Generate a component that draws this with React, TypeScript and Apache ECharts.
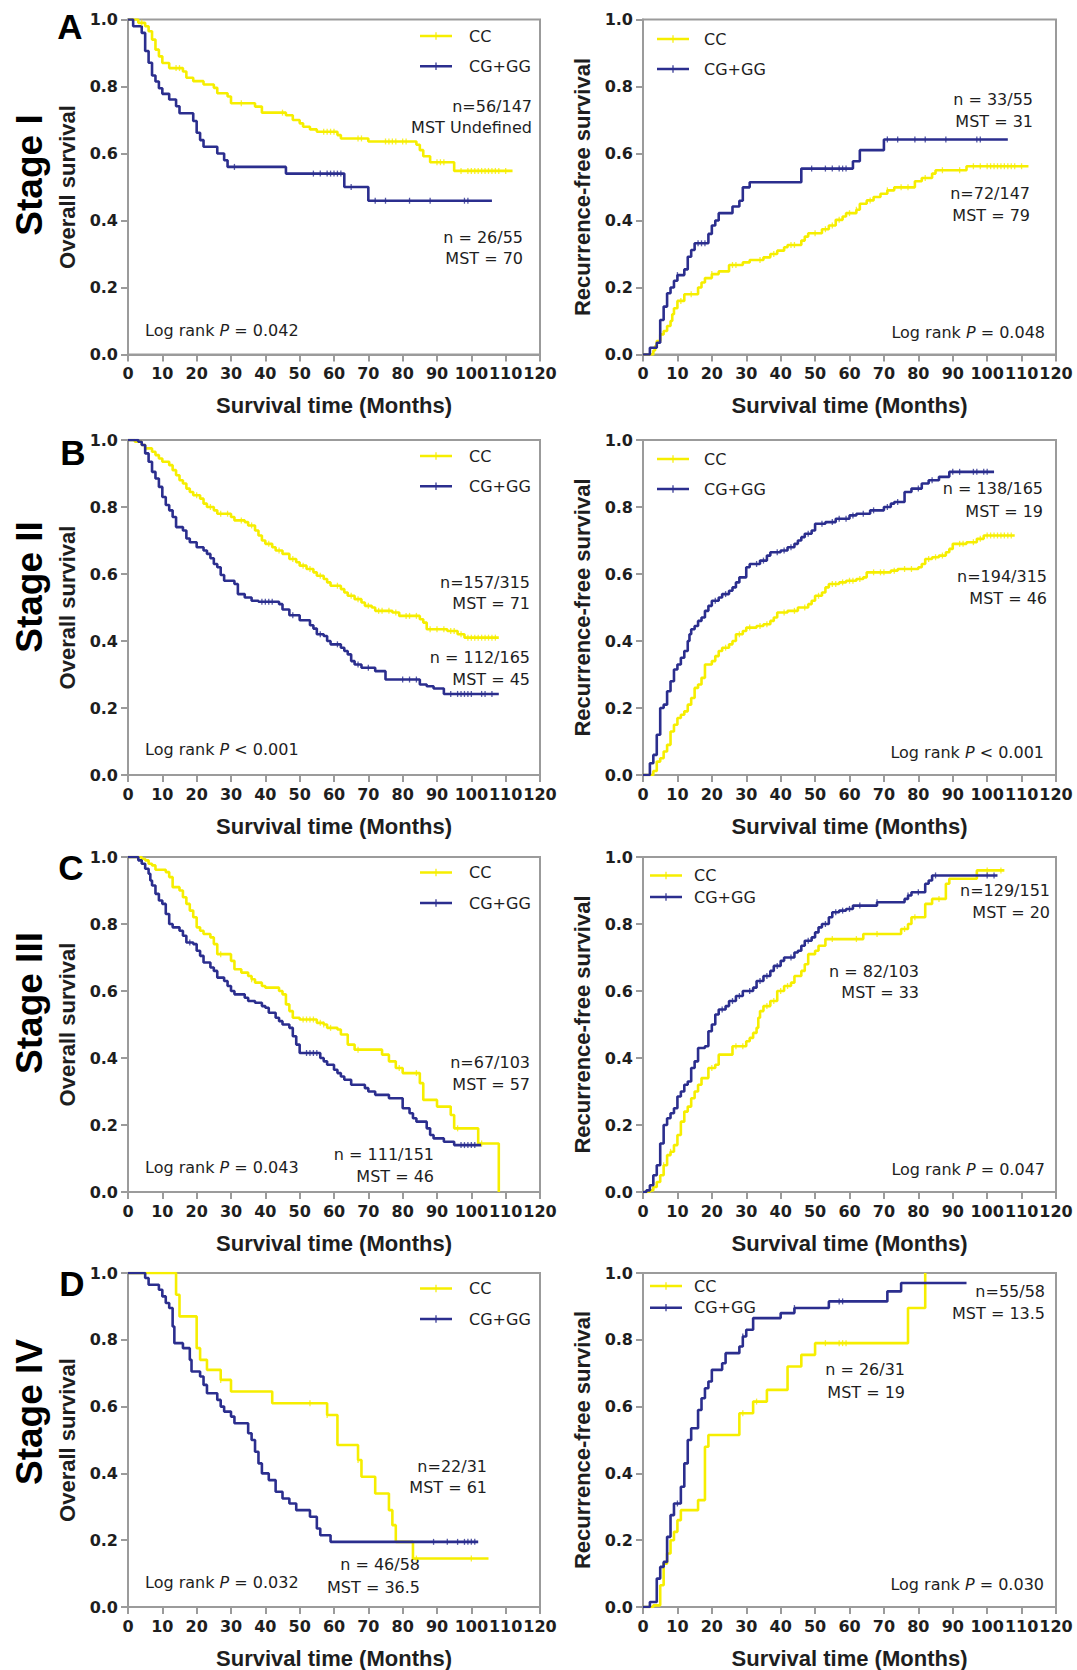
import React, { useEffect, useRef } from "react";
import * as echarts from "echarts";

// ---------- DATA ----------
const groups = ["CC", "CG+GG"];
const xTickValues = [0, 10, 20, 30, 40, 50, 60, 70, 80, 90, 100, 110, 120];
const yTickValues = [0, 0.2, 0.4, 0.6, 0.8, 1.0];

// Stage I overall survival
const osI_CC = [[0,1],[3,0.99],[5,0.98],[6,0.965],[7,0.94],[8,0.91],[9,0.89],[10,0.87],[12,0.855],[16,0.845],[17,0.826],[19,0.816],[22,0.806],[25,0.796],[26,0.78],[29,0.77],[30,0.75],[37,0.74],[39,0.722],[46,0.714],[48,0.70],[50,0.69],[51,0.68],[53,0.672],[55,0.665],[61,0.655],[62,0.645],[70,0.636],[84,0.626],[85,0.61],[86,0.592],[88,0.574],[95,0.548],[112,0.548]];
const osI_CC_cens = [4,14,15,33,45,57,58,59,60,67,68,75,76,77,78,80,81,90,91,92,97,99,100,101,102,103,104,105,106,107,108,110];
const osI_GG = [[0,1],[1.5,0.98],[4,0.96],[5,0.906],[6,0.871],[7,0.833],[8,0.815],[9,0.795],[10,0.778],[12,0.761],[14,0.741],[15,0.72],[19,0.697],[20,0.662],[21,0.64],[22,0.62],[26,0.60],[28,0.58],[29,0.56],[46,0.54],[63,0.50],[70,0.459],[106,0.459]];
const osI_GG_cens = [31,54,56,58,59,60,61,62,65,72,75,82,88,98,99];

// Stage I recurrence-free survival
const rfsI_CC = [[0,0],[3,0.012],[3.5,0.025],[4,0.04],[5,0.06],[6,0.07],[7,0.085],[8,0.10],[8.5,0.12],[9,0.138],[10,0.16],[12,0.18],[16,0.2],[17,0.215],[18,0.228],[20,0.24],[22,0.248],[25,0.267],[29,0.275],[31,0.282],[35,0.29],[37,0.30],[39,0.31],[41,0.32],[42,0.327],[46,0.34],[47,0.352],[48,0.362],[52,0.374],[54,0.385],[56,0.402],[58,0.412],[59,0.422],[62,0.432],[63,0.45],[65,0.46],[67,0.47],[69,0.48],[71,0.49],[73,0.499],[79,0.517],[81,0.527],[84,0.54],[85,0.55],[94,0.562],[112,0.562]];
const rfsI_CC_cens = [11,14,20,26,27,34,38,43,44,50,53,55,57,60,62,66,71,75,77,82,87,92,96,98,100,101,102,103,104,105,106,107,108,110];
const rfsI_GG = [[0,0],[2,0.02],[4,0.035],[5,0.103],[6,0.143],[7,0.183],[8,0.20],[9,0.22],[10,0.237],[12,0.254],[13,0.292],[14,0.312],[15,0.332],[19,0.36],[20,0.385],[21,0.40],[22,0.422],[26,0.442],[28,0.459],[29,0.499],[31,0.514],[46,0.555],[61,0.577],[63,0.61],[70,0.642],[106,0.642]];
const rfsI_GG_cens = [10,16,17,18,49,53,55,57,58,59,71,74,79,82,88,97,98];

// Stage II overall survival
const osII_CC = [[0,1],[2,0.995],[4,0.985],[5,0.975],[7,0.965],[8,0.955],[9,0.945],[10,0.935],[12,0.925],[13,0.91],[14,0.895],[15,0.88],[16,0.87],[17,0.855],[18,0.845],[19,0.835],[21,0.825],[22,0.81],[23,0.80],[25,0.79],[26,0.78],[30,0.77],[31,0.76],[34,0.755],[35,0.745],[37,0.73],[38,0.715],[39,0.70],[40,0.69],[42,0.68],[43,0.67],[45,0.66],[47,0.645],[49,0.635],[50,0.625],[52,0.615],[54,0.605],[55,0.595],[57,0.585],[58,0.575],[59,0.565],[62,0.555],[63,0.545],[64,0.535],[66,0.525],[68,0.515],[69,0.505],[71,0.50],[72,0.49],[77,0.485],[79,0.475],[85,0.465],[86,0.455],[87,0.435],[93,0.43],[96,0.42],[98,0.41],[108,0.41]];
const osII_CC_cens = [20,24,27,29,33,36,41,44,48,51,53,56,61,65,67,70,73,74,76,78,81,82,84,88,90,92,94,95,97,99,100,101,102,103,104,105,106,107];
const osII_GG = [[0,1],[3,0.995],[4,0.985],[5,0.96],[6,0.935],[7,0.905],[8,0.885],[9,0.86],[10,0.83],[11,0.806],[12,0.79],[13,0.77],[14,0.74],[16,0.73],[17,0.706],[18,0.695],[20,0.68],[22,0.67],[23,0.66],[24,0.647],[25,0.63],[26,0.62],[27,0.597],[28,0.58],[31,0.57],[32,0.54],[34,0.53],[36,0.52],[38,0.517],[44,0.51],[45,0.494],[47,0.477],[50,0.462],[53,0.447],[54,0.437],[55,0.42],[57,0.415],[58,0.40],[59,0.39],[62,0.38],[63,0.37],[64,0.36],[65,0.34],[66,0.33],[68,0.32],[72,0.31],[75,0.285],[85,0.27],[87,0.265],[89,0.258],[92,0.242],[108,0.242]];
const osII_GG_cens = [39,40,41,42,48,56,61,67,70,80,82,84,94,96,97,98,99,100,103,104,106];

// Stage II recurrence-free survival
const rfsII_CC = [[0,0],[3,0.012],[4,0.04],[5,0.05],[6,0.07],[7,0.09],[8,0.13],[9,0.15],[10,0.17],[11,0.18],[12,0.19],[13,0.21],[14,0.23],[15,0.26],[16,0.27],[17,0.29],[18,0.33],[20,0.34],[21,0.355],[22,0.37],[23,0.38],[25,0.39],[26,0.40],[27,0.42],[29,0.43],[30,0.44],[33,0.445],[35,0.45],[37,0.46],[38,0.47],[39,0.485],[42,0.49],[45,0.50],[48,0.51],[49,0.52],[50,0.535],[52,0.545],[53,0.56],[54,0.57],[57,0.575],[59,0.58],[62,0.585],[64,0.59],[65,0.605],[72,0.61],[74,0.615],[80,0.62],[81,0.63],[82,0.645],[84,0.65],[86,0.655],[88,0.665],[89,0.675],[90,0.69],[94,0.695],[97,0.705],[99,0.715],[108,0.715]];
const rfsII_CC_cens = [24,28,31,34,36,41,44,47,51,55,56,58,60,61,63,67,69,70,73,76,78,83,85,87,92,93,96,98,100,101,102,103,104,105,106,107];
const rfsII_GG = [[0,0],[2,0.035],[3,0.06],[4,0.12],[5,0.2],[6,0.21],[7,0.25],[8,0.28],[9,0.315],[10,0.33],[11,0.35],[12,0.37],[13,0.40],[13.5,0.42],[14,0.435],[15,0.445],[16,0.46],[17,0.47],[18,0.49],[19,0.505],[20,0.52],[22,0.53],[23,0.54],[25,0.55],[26,0.56],[27,0.575],[28,0.59],[30,0.62],[31,0.63],[34,0.64],[36,0.655],[37,0.665],[40,0.67],[42,0.68],[44,0.69],[45,0.70],[46,0.71],[47,0.72],[49,0.73],[50,0.75],[53,0.755],[56,0.765],[60,0.775],[62,0.78],[66,0.79],[70,0.80],[72,0.81],[73,0.815],[76,0.845],[78,0.855],[81,0.87],[83,0.88],[86,0.89],[89,0.905],[102,0.905]];
const rfsII_GG_cens = [21,24,33,35,39,41,43,48,52,55,57,59,61,64,67,71,74,80,84,90,92,96,97,99,100];

// Stage III overall survival
const osIII_CC = [[0,1],[4,0.995],[5,0.99],[6,0.98],[7,0.975],[8,0.962],[11,0.955],[12,0.94],[13,0.91],[15,0.90],[16,0.88],[17,0.86],[18,0.84],[19,0.82],[20,0.79],[21,0.78],[22,0.77],[24,0.76],[25,0.74],[26,0.71],[30,0.69],[31,0.665],[33,0.655],[35,0.645],[36,0.635],[37,0.625],[39,0.615],[40,0.61],[44,0.60],[45,0.59],[46,0.56],[47,0.54],[48,0.52],[50,0.515],[55,0.505],[57,0.50],[58,0.49],[61,0.485],[62,0.47],[64,0.44],[66,0.425],[74,0.41],[76,0.39],[78,0.37],[80,0.355],[85,0.325],[86,0.275],[90,0.255],[94,0.23],[95,0.19],[102,0.145],[108,0]];
const osIII_CC_cens = [27,36,51,52,53,54,56,57,59,67,79,84,96,103];
const osIII_GG = [[0,1],[3,0.99],[4,0.98],[5,0.965],[6,0.95],[6.5,0.93],[7,0.915],[8,0.89],[9,0.87],[10,0.86],[11,0.83],[12,0.80],[13,0.79],[15,0.78],[16,0.765],[17,0.745],[19,0.74],[20,0.72],[21,0.705],[22,0.685],[24,0.67],[25,0.66],[26,0.64],[28,0.63],[29,0.615],[30,0.60],[31,0.59],[34,0.58],[35,0.57],[37,0.565],[39,0.555],[40,0.55],[41,0.535],[43,0.52],[44,0.51],[45,0.50],[47,0.49],[48,0.465],[49,0.44],[50,0.415],[56,0.40],[57,0.39],[58,0.38],[60,0.365],[61,0.355],[62,0.345],[63,0.335],[65,0.32],[69,0.31],[70,0.30],[72,0.29],[76,0.28],[80,0.25],[82,0.235],[83,0.22],[84,0.21],[87,0.19],[88,0.17],[89,0.16],[92,0.15],[95,0.14],[103,0.14]];
const osIII_GG_cens = [18,52,53,54,55,97,98,99,100,101];

// Stage III recurrence-free survival
const rfsIII_CC = [[0,0],[2,0.005],[3,0.015],[4,0.03],[5,0.05],[6,0.08],[7,0.11],[8,0.12],[9,0.14],[10,0.17],[11,0.21],[12,0.24],[13,0.255],[14,0.28],[15,0.30],[16,0.32],[17,0.34],[19,0.37],[21,0.38],[22,0.41],[26,0.435],[30,0.45],[31,0.46],[32,0.475],[33,0.49],[33.5,0.52],[34,0.54],[35,0.555],[37,0.57],[39,0.60],[41,0.615],[43,0.625],[44,0.645],[46,0.66],[47,0.68],[48,0.71],[50,0.72],[51,0.735],[53,0.755],[64,0.77],[75,0.785],[77,0.80],[78,0.82],[82,0.86],[84,0.875],[88,0.92],[89,0.935],[97,0.96],[105,0.96]];
const rfsIII_CC_cens = [6,8,20,27,29,36,38,40,42,55,62,68,76,79,86,100,104];
const rfsIII_GG = [[0,0],[1,0.005],[2,0.02],[3,0.05],[4,0.08],[5,0.145],[6,0.20],[7,0.22],[8,0.235],[9,0.25],[10,0.285],[11,0.30],[12,0.32],[13,0.33],[14,0.37],[15,0.39],[16,0.43],[18,0.435],[19,0.48],[20,0.50],[21,0.53],[22,0.545],[24,0.555],[25,0.57],[27,0.585],[29,0.60],[32,0.61],[33,0.63],[35,0.645],[37,0.66],[38,0.675],[40,0.69],[41,0.70],[44,0.715],[45,0.72],[46,0.735],[47,0.75],[49,0.76],[50,0.775],[51,0.79],[52,0.80],[54,0.82],[55,0.835],[57,0.84],[59,0.845],[61,0.855],[68,0.865],[76,0.875],[77,0.885],[78,0.895],[82,0.92],[83,0.93],[84,0.945],[103,0.945]];
const rfsIII_GG_cens = [23,26,28,31,34,36,39,43,48,53,56,58,60,63,68,77,80,85,100,102];

// Stage IV overall survival
const osIV_CC = [[0,1],[14,0.935],[15,0.87],[20,0.775],[21,0.74],[23,0.71],[27,0.68],[30,0.645],[42,0.61],[58,0.575],[61,0.485],[67,0.44],[68,0.39],[72,0.34],[76,0.29],[77,0.245],[78,0.195],[83,0.145],[105,0.145]];
const osIV_CC_cens = [27,53,58,67,84,100];
const osIV_GG = [[0,1],[5,0.985],[6,0.965],[9,0.95],[10,0.93],[11,0.91],[12,0.895],[13,0.84],[13.5,0.79],[16,0.775],[18,0.74],[18.5,0.705],[21,0.69],[22,0.665],[23,0.64],[26,0.62],[27,0.60],[28,0.585],[30,0.57],[31,0.55],[35,0.52],[36,0.50],[37,0.465],[38,0.43],[39,0.40],[41,0.38],[43,0.345],[45,0.325],[47,0.31],[49,0.29],[53,0.27],[55,0.235],[56,0.215],[59,0.195],[102,0.195]];
const osIV_GG_cens = [89,93,96,98,99,100,101];

// Stage IV recurrence-free survival
const rfsIV_CC = [[0,0],[3,0.005],[5,0.065],[6,0.13],[7,0.16],[8,0.2],[9,0.225],[10,0.26],[11,0.29],[16,0.32],[18,0.48],[19,0.515],[28,0.58],[32,0.615],[36,0.65],[42,0.72],[46,0.755],[50,0.79],[77,0.895],[82,1.0]];
const rfsIV_CC_cens = [29,33,53,57,58,59];
const rfsIV_GG = [[0,0],[2,0.015],[4,0.085],[5,0.12],[6,0.135],[7,0.21],[8,0.275],[9,0.31],[11,0.36],[12,0.43],[13,0.5],[14,0.535],[16,0.59],[17,0.625],[18,0.655],[19,0.675],[20,0.71],[23,0.73],[24,0.76],[28,0.78],[29,0.81],[30,0.83],[32,0.865],[40,0.88],[44,0.895],[54,0.915],[71,0.945],[75,0.97],[94,0.97]];
const rfsIV_GG_cens = [10,29,44,57,58];

// Text content
const panelLetters = ["A", "B", "C", "D"];
const stageLabels = ["Stage I", "Stage II", "Stage III", "Stage IV"];
const yNames = ["Overall survival", "Recurrence-free survival"];
const xName = "Survival time (Months)";

// ---------- STYLE / LAYOUT ----------
const FONT = '"Liberation Sans", Arial, Helvetica, sans-serif';
const WIDE = '"DejaVu Sans", Verdana, sans-serif';
const GRAY = "#9b9b9b";
const YELLOW = "#f6ee00";
const BLUE = "#2b2e8e";
const TEXT = "#1e1e1e";
const COL_X = [128, 643];
const COL_W = [412, 413];
const ROW_TOP = [19.5, 440, 857, 1273];
const PH = 335;
const ICON = "path://M0,3.1L32,3.1L32,5.6L0,5.6Z M15.4,0.6L16.6,0.6L16.6,8L15.4,8Z";

type Curve = number[][];
interface Panel {
  row: number; col: number;
  cc: Curve; ccC: number[]; gg: Curve; ggC: number[];
  lg: [number, number, number, number]; // icon left, first row center y, row spacing, text pad
  notes: [string, number, number, "left" | "right"][];
}

const panels: Panel[] = [
  { row: 0, col: 0, cc: osI_CC, ccC: osI_CC_cens, gg: osI_GG, ggC: osI_GG_cens, lg: [420, 36, 30.3, 12],
    notes: [["n=56/147", 532, 106, "right"], ["MST Undefined", 532, 127.5, "right"], ["n = 26/55", 523, 237, "right"], ["MST = 70", 523, 258, "right"], ["Log rank {i|P} = 0.042", 145, 330, "left"]] },
  { row: 0, col: 1, cc: rfsI_CC, ccC: rfsI_CC_cens, gg: rfsI_GG, ggC: rfsI_GG_cens, lg: [657, 39, 30, 10],
    notes: [["n = 33/55", 1033, 99, "right"], ["MST = 31", 1033, 121, "right"], ["n=72/147", 1030, 193, "right"], ["MST = 79", 1030, 215, "right"], ["Log rank {i|P} = 0.048", 1045, 332, "right"]] },
  { row: 1, col: 0, cc: osII_CC, ccC: osII_CC_cens, gg: osII_GG, ggC: osII_GG_cens, lg: [420, 456, 30.3, 12],
    notes: [["n=157/315", 530, 582, "right"], ["MST = 71", 530, 603, "right"], ["n = 112/165", 530, 657, "right"], ["MST = 45", 530, 679, "right"], ["Log rank {i|P} < 0.001", 145, 749, "left"]] },
  { row: 1, col: 1, cc: rfsII_CC, ccC: rfsII_CC_cens, gg: rfsII_GG, ggC: rfsII_GG_cens, lg: [657, 459, 30, 10],
    notes: [["n = 138/165", 1043, 488, "right"], ["MST = 19", 1043, 511, "right"], ["n=194/315", 1047, 576, "right"], ["MST = 46", 1047, 598, "right"], ["Log rank {i|P} < 0.001", 1044, 752, "right"]] },
  { row: 2, col: 0, cc: osIII_CC, ccC: osIII_CC_cens, gg: osIII_GG, ggC: osIII_GG_cens, lg: [420, 872.5, 30.5, 12],
    notes: [["n=67/103", 530, 1062, "right"], ["MST = 57", 530, 1084, "right"], ["n = 111/151", 434, 1154, "right"], ["MST = 46", 434, 1176, "right"], ["Log rank {i|P} = 0.043", 145, 1167, "left"]] },
  { row: 2, col: 1, cc: rfsIII_CC, ccC: rfsIII_CC_cens, gg: rfsIII_GG, ggC: rfsIII_GG_cens, lg: [650, 875.5, 21.5, 7],
    notes: [["n=129/151", 1050, 890, "right"], ["MST = 20", 1050, 912, "right"], ["n = 82/103", 919, 971, "right"], ["MST = 33", 919, 992, "right"], ["Log rank {i|P} = 0.047", 1045, 1169, "right"]] },
  { row: 3, col: 0, cc: osIV_CC, ccC: osIV_CC_cens, gg: osIV_GG, ggC: osIV_GG_cens, lg: [420, 1288.5, 30.5, 12],
    notes: [["n=22/31", 487, 1466, "right"], ["MST = 61", 487, 1487, "right"], ["n = 46/58", 420, 1564, "right"], ["MST = 36.5", 420, 1587, "right"], ["Log rank {i|P} = 0.032", 145, 1582, "left"]] },
  { row: 3, col: 1, cc: rfsIV_CC, ccC: rfsIV_CC_cens, gg: rfsIV_GG, ggC: rfsIV_GG_cens, lg: [650, 1286, 21.6, 7],
    notes: [["n=55/58", 1045, 1291, "right"], ["MST = 13.5", 1045, 1313, "right"], ["n = 26/31", 905, 1369, "right"], ["MST = 19", 905, 1392, "right"], ["Log rank {i|P} = 0.030", 1044, 1584, "right"]] },
];

const letterPos = [[70, 26], [73, 452], [71, 867], [72, 1283]];
const stagePos = [[29, 175], [29, 587], [29, 1003], [29, 1412]];

function stepAt(curve: Curve, t: number): number {
  let v = curve[0][1];
  for (const [x, y] of curve) {
    if (x <= t) v = y;
    else break;
  }
  return v;
}

function buildOption() {
  const grid: any[] = [];
  const xAxis: any[] = [];
  const yAxis: any[] = [];
  const series: any[] = [];
  const legend: any[] = [];
  const graphic: any[] = [];

  panels.forEach((p, i) => {
    grid.push({
      left: COL_X[p.col], top: ROW_TOP[p.row], width: COL_W[p.col], height: PH,
      show: true, borderColor: GRAY, borderWidth: 2, backgroundColor: "transparent",
    });
    xAxis.push({
      gridIndex: i, type: "value", min: xTickValues[0], max: xTickValues[xTickValues.length - 1], interval: 10,
      name: xName, nameLocation: "middle", nameGap: 40,
      nameTextStyle: { fontFamily: FONT, fontWeight: "bold", fontSize: 22, color: TEXT },
      axisLine: { show: true, onZero: false, lineStyle: { color: GRAY, width: 2 } },
      axisTick: { show: true, length: 7, lineStyle: { color: GRAY, width: 2 } },
      axisLabel: { fontFamily: WIDE, fontWeight: "bold", fontSize: 16, color: TEXT, margin: 11, hideOverlap: false },
      splitLine: { show: false },
    });
    yAxis.push({
      gridIndex: i, type: "value", min: yTickValues[0], max: yTickValues[yTickValues.length - 1], interval: 0.2,
      name: yNames[p.col], nameLocation: "middle", nameGap: 50,
      nameTextStyle: { fontFamily: FONT, fontWeight: "bold", fontSize: 22, color: TEXT },
      axisLine: { show: true, onZero: false, lineStyle: { color: GRAY, width: 2 } },
      axisTick: { show: true, length: 7, lineStyle: { color: GRAY, width: 2 } },
      axisLabel: { fontFamily: WIDE, fontWeight: "bold", fontSize: 16, color: TEXT, margin: 10, formatter: (v: number) => v.toFixed(1) },
      splitLine: { show: false },
    });
    const curves: [string, Curve, number[], string][] = [
      [groups[0], p.cc, p.ccC, YELLOW],
      [groups[1], p.gg, p.ggC, BLUE],
    ];
    curves.forEach(([name, curve, cens, color], k) => {
      series.push({
        type: "line", name, xAxisIndex: i, yAxisIndex: i, data: curve, step: "end",
        symbol: "none", showSymbol: false, silent: true, z: 2 + k,
        lineStyle: { color, width: 2.6 }, itemStyle: { color, borderWidth: 0 },
      });
      series.push({
        type: "scatter", name: name + " censored", xAxisIndex: i, yAxisIndex: i,
        data: cens.map((t) => [t, stepAt(curve, t)]),
        symbol: "rect", symbolSize: [1.3, 6], silent: true, z: 4 + k,
        itemStyle: { color },
      });
    });
    const [lx, ly, lgap, tpad] = p.lg;
    legend.push({
      data: groups, orient: "vertical", left: lx, top: ly - 8, padding: 0,
      itemWidth: 32, itemHeight: 8.6, itemGap: lgap - 16, icon: ICON, selectedMode: false,
      itemStyle: { borderWidth: 0 },
      textStyle: { fontFamily: WIDE, fontSize: 16, color: TEXT, padding: [0, 0, 0, tpad] },
    });
    p.notes.forEach(([text, x, y, align]) => {
      graphic.push({
        type: "text", x, y, silent: true,
        style: {
          text, fontFamily: WIDE, fontSize: 16, fill: TEXT,
          align, textAlign: align, verticalAlign: "middle", textVerticalAlign: "middle",
          rich: { i: { fontFamily: WIDE, fontSize: 16, fontStyle: "italic", fill: TEXT } },
        },
      });
    });
  });

  panelLetters.forEach((t, r) => {
    graphic.push({
      type: "text", x: letterPos[r][0], y: letterPos[r][1], silent: true,
      style: { text: t, fontFamily: FONT, fontSize: 35, fontWeight: "bold", fill: "#000",
        align: "center", textAlign: "center", verticalAlign: "middle", textVerticalAlign: "middle" },
    });
  });
  stageLabels.forEach((t, r) => {
    graphic.push({
      type: "text", x: stagePos[r][0], y: stagePos[r][1], rotation: Math.PI / 2, silent: true,
      style: { text: t, fontFamily: FONT, fontSize: 37, fontWeight: "bold", fill: "#000",
        align: "center", textAlign: "center", verticalAlign: "middle", textVerticalAlign: "middle" },
    });
  });

  return { animation: false, backgroundColor: "#ffffff", grid, xAxis, yAxis, series, legend, graphic };
}

export default function App() {
  const ref = useRef<HTMLDivElement>(null);
  useEffect(() => {
    if (!ref.current) return;
    const chart = echarts.init(ref.current, undefined, { renderer: "svg" });
    chart.setOption(buildOption() as any);
    return () => chart.dispose();
  }, []);
  return (
    <div
      ref={ref}
      style={{ position: "absolute", left: 0, top: 0, width: 1077, height: 1670, background: "#fff" }}
    />
  );
}
